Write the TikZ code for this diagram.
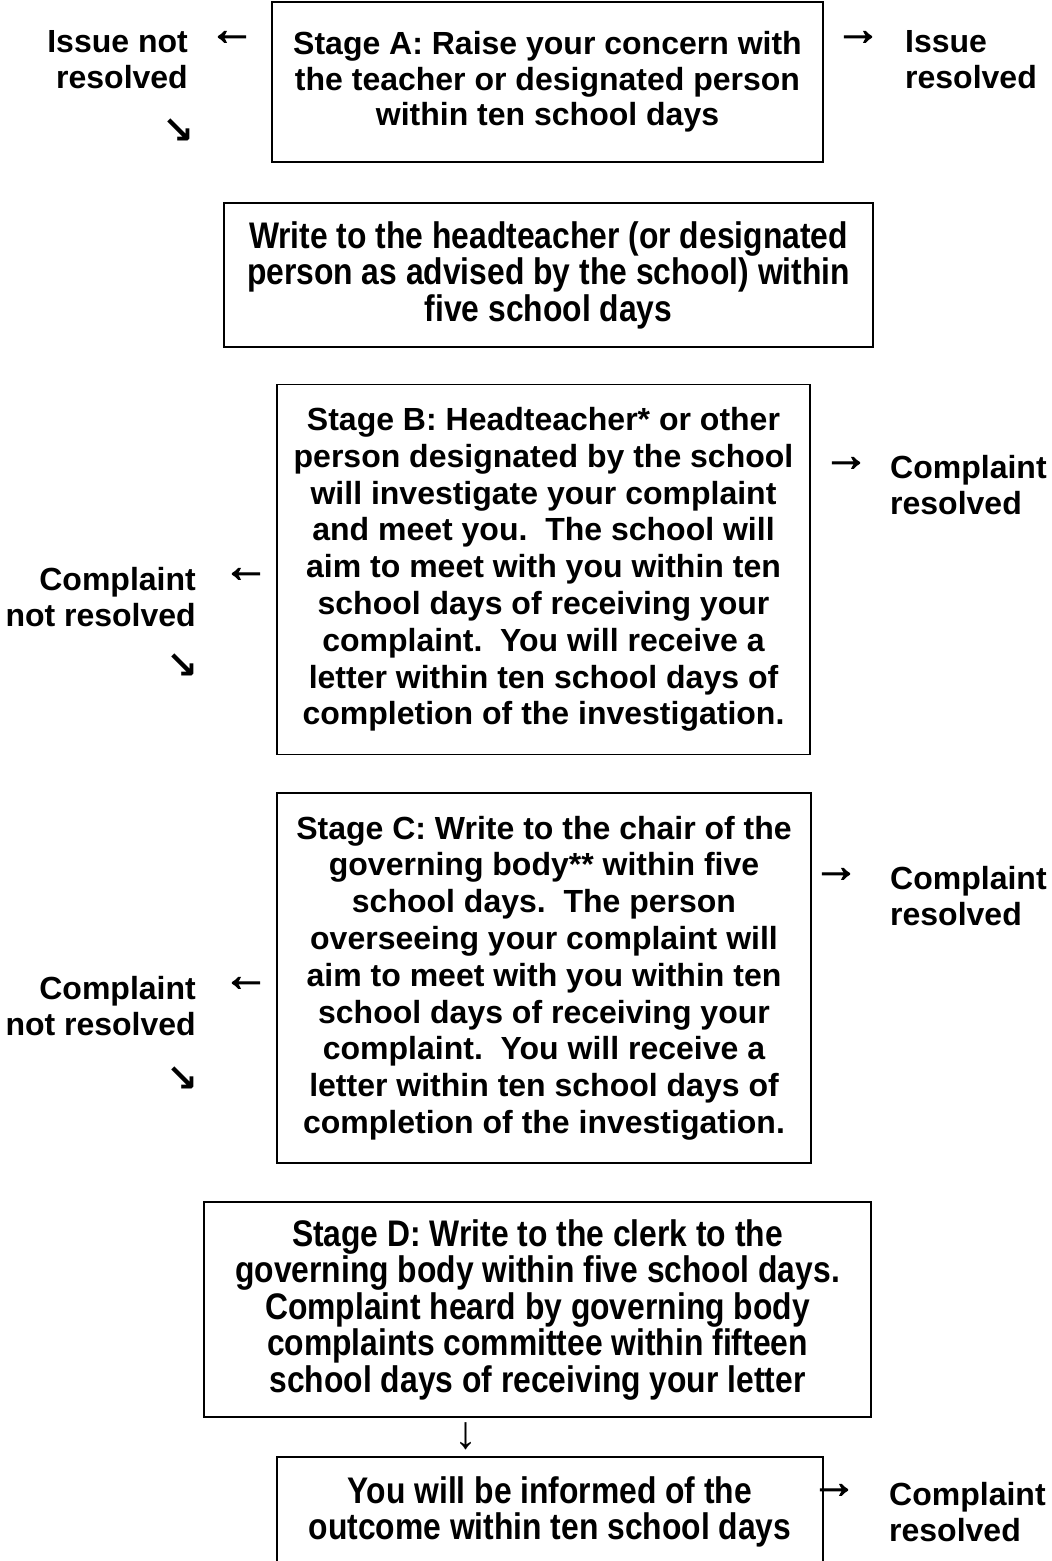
\documentclass[tikz,border=0pt]{standalone}
\usepackage{fontspec}
\setmainfont{Liberation Sans}
\newfontfamily\narrowfont[FakeStretch=0.86]{Liberation Sans}
\newfontfamily\signfont[FakeBold=2.5]{Liberation Sans}
\newfontfamily\arrowfont{DejaVu Sans}
\usetikzlibrary{positioning}

\begin{document}
\begin{tikzpicture}[
    x=1pt, y=-1pt,
    stagebox/.style={draw, line width=1.6pt, align=center, inner sep=0pt,
        font=\bfseries\fontsize{32}{36.8}\selectfont},
    narrowbox/.style={stagebox, font=\narrowfont\bfseries\fontsize{37}{36.5}\selectfont},
    sidetext/.style={inner sep=0pt, font=\bfseries\fontsize{32}{36}\selectfont},
    sign/.style={inner sep=0pt, font=\signfont\fontsize{46}{46}\selectfont},
    slantsign/.style={inner sep=0pt, font=\arrowfont\bfseries\fontsize{38}{38}\selectfont},
    downsign/.style={inner sep=0pt, font=\fontsize{46}{46}\selectfont}
    ]
    \useasboundingbox (0,0) rectangle (1052,1561);

    % the stages
    \node[stagebox, font=\bfseries\fontsize{32}{35.5}\selectfont,
        minimum width=551, minimum height=160] (stageA) at (547.5,82)
        {Stage A: Raise your concern with\\the teacher or designated person\\within ten school days};
    \node[narrowbox, minimum width=649, minimum height=144] (writeHead) at (548.5,275)
        {Write to the headteacher (or designated\\person as advised by the school) within\\five school days};
    \node[stagebox, minimum width=533, minimum height=370] (stageB) at (543.5,569.5)
        {Stage B: Headteacher* or other\\person designated by the school\\will investigate your complaint\\and meet you.\ \ The school will\\aim to meet with you within ten\\school days of receiving your\\complaint.\ \ You will receive a\\letter within ten school days of\\completion of the investigation.};
    \node[stagebox, minimum width=534, minimum height=370] (stageC) at (544,978)
        {Stage C: Write to the chair of the\\governing body** within five\\school days.\ \ The person\\overseeing your complaint will\\aim to meet with you within ten\\school days of receiving your\\complaint.\ \ You will receive a\\letter within ten school days of\\completion of the investigation.};
    \node[narrowbox, minimum width=667, minimum height=215] (stageD) at (537.5,1309.5)
        {Stage D: Write to the clerk to the\\governing body within five school days.\\Complaint heard by governing body\\complaints committee within fifteen\\school days of receiving your letter};
    \node[narrowbox, minimum width=546, minimum height=110] (outcome) at (550,1512)
        {You will be informed of the\\outcome within ten school days};

    % not resolved, on the left
    \node[sidetext, anchor=east, align=right] (issueNot) at (188,60) {Issue not\\resolved};
    \node[sign] (aLeft) at (232,38) {←};
    \node[slantsign] (aDownA) at (178,131) {↘};
    \node[sidetext, anchor=east, align=right] (bNot) at (196,597) {Complaint\\not resolved};
    \node[sign] (bLeft) at (246,575) {←};
    \node[slantsign] (aDownB) at (182,666) {↘};
    \node[sidetext, anchor=east, align=right] (cNot) at (196,1006) {Complaint\\not resolved};
    \node[sign] (cLeft) at (246,984) {←};
    \node[slantsign] (aDownC) at (182,1079) {↘};

    % resolved, on the right
    \node[sign] (aRight) at (858,38) {→};
    \node[sidetext, anchor=west, align=left] (issueDone) at (905,60) {Issue\\resolved};
    \node[sign] (bRight) at (846,464) {→};
    \node[sidetext, anchor=west, align=left] (bDone) at (890,485) {Complaint\\resolved};
    \node[sign] (cRight) at (836,875) {→};
    \node[sidetext, anchor=west, align=left] (cDone) at (890,896) {Complaint\\resolved};
    \node[sign] (outRight) at (834,1491) {→};
    \node[sidetext, anchor=west, align=left] (outDone) at (889,1512) {Complaint\\resolved};

    % between stage D and the outcome
    \node[downsign] (dDown) at (466,1436) {↓};
\end{tikzpicture}
\end{document}
